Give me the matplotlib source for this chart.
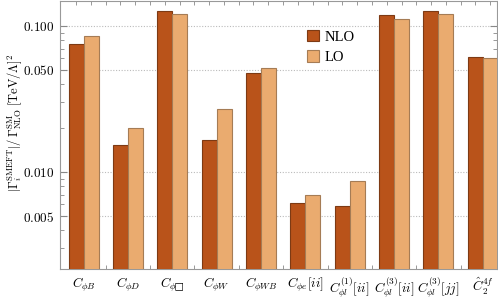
import numpy as np
import matplotlib
matplotlib.use("Agg")
import matplotlib.pyplot as plt
from matplotlib.ticker import FixedLocator, NullFormatter

plt.rcParams['font.family'] = ['Liberation Serif', 'DejaVu Serif']
plt.rcParams['mathtext.fontset'] = 'cm'

# data
labels = [r'$C_{\phi B}$', r'$C_{\phi D}$', '$C_{\\phi\u25a1}$', r'$C_{\phi W}$',
          r'$C_{\phi WB}$', r'$C_{\phi e}[ii]$', r'$C^{(1)}_{\phi l}[ii]$',
          r'$C^{(3)}_{\phi l}[ii]$', r'$C^{(3)}_{\phi l}[jj]$', r'$\hat{C}_2^{4f}$']
nlo = [0.0756, 0.0153, 0.1267, 0.0166, 0.0479, 0.00616, 0.00585, 0.118, 0.126, 0.0617]
lo = [0.0855, 0.0199, 0.120, 0.0270, 0.0513, 0.00695, 0.00863, 0.111, 0.120, 0.0601]

fig = plt.figure(figsize=(4.98, 2.99), dpi=100)
ax = fig.add_axes([0.1205, 0.1003, 0.8775, 0.8964])

x = np.arange(len(labels))
w = 0.338
ax.bar(x - w/2, nlo, w, color='#b9531a', edgecolor='#7d3a14', linewidth=0.8, label='NLO', zorder=3)
ax.bar(x + w/2, lo, w, color='#eaab6f', edgecolor='#a57c55', linewidth=0.8, label='LO', zorder=3)

ax.set_yscale('log')
ax.set_ylim(0.00217, 0.148)
ax.set_xlim(-0.53, 9.32)

yt = [0.005, 0.010, 0.050, 0.100]
ax.set_yticks(yt)
ax.set_yticklabels([r'$%.3f$' % v for v in yt], fontsize=9.5)
ax.yaxis.set_minor_formatter(NullFormatter())
for v in yt:
    ax.axhline(v, color='#bbbbbb', linestyle=(0, (1, 1.5)), linewidth=0.8, zorder=1)

ax.set_xticks(x)
ax.set_xticklabels(labels, fontsize=9.5)
ax.tick_params(axis='x', which='major', length=0, pad=5)
minor_x = sorted(list(x - w/2) + list(x + w/2) + list(x[:-1] + 0.5))
ax.xaxis.set_minor_locator(FixedLocator(minor_x))
ax.tick_params(axis='x', which='minor', direction='in', length=3, top=True, bottom=True, color='#888888')
ax.tick_params(axis='y', which='major', direction='in', length=5, left=True, right=True, color='#888888', pad=4)
ax.tick_params(axis='y', which='minor', direction='in', length=3, left=True, right=True, color='#888888')

for s in ax.spines.values():
    s.set_color('#999999')
    s.set_linewidth(0.8)

ax.set_ylabel(r'$|\Gamma_i^{\rm SMEFT}|/\,\Gamma^{\rm SM}_{\rm NLO}\;[{\rm TeV}/\Lambda]^2$', fontsize=9)
ax.yaxis.set_label_coords(-0.083, 0.545)

ax.legend(loc='upper left', bbox_to_anchor=(0.535, 0.94), frameon=False, fontsize=10.5,
          handlelength=0.8, handleheight=0.8, handletextpad=0.4, labelspacing=0.45)

fig.savefig('out.png', dpi=100)
